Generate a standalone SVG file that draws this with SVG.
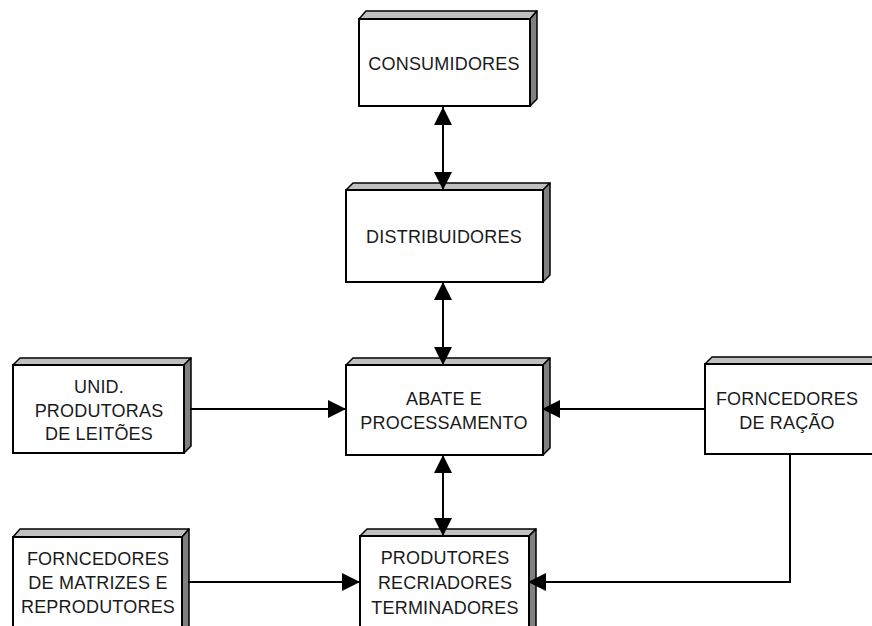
<svg xmlns="http://www.w3.org/2000/svg" width="872" height="626" viewBox="0 0 872 626">
<style>
.front{fill:#ffffff;stroke:#000;stroke-width:2}
.top{fill:#c0c0c0;stroke:#000;stroke-width:1.5;stroke-linejoin:round}
.side{fill:#808080;stroke:#000;stroke-width:1.5;stroke-linejoin:round}
.lbl{font-family:"Liberation Sans",Arial,sans-serif;font-size:18px;fill:#1a1a1a;text-anchor:middle;letter-spacing:0.2px}
.con{fill:none;stroke:#000;stroke-width:2}
</style>
<defs>
<marker id="ah" viewBox="0 0 18 18" refX="18" refY="9" markerWidth="18" markerHeight="18" markerUnits="userSpaceOnUse" orient="auto-start-reverse">
<path d="M0,0 L18,9 L0,18 z" fill="#000"/>
</marker>
</defs>
<rect width="872" height="626" fill="#fff"/>
<g id="consumidores">
<polygon class="top" points="359,19 366,11 537,11 530,19"/>
<polygon class="side" points="530,19 537,11 537,99 530,106"/>
<rect class="front" x="359" y="19" width="171" height="87"/>
<text class="lbl" x="444" y="70">CONSUMIDORES</text>
</g>
<g id="distribuidores">
<polygon class="top" points="346,190 353,183 550,183 543,190"/>
<polygon class="side" points="543,190 550,183 550,275 543,282"/>
<rect class="front" x="346" y="190" width="197" height="92"/>
<text class="lbl" x="444" y="243">DISTRIBUIDORES</text>
</g>
<g id="abate">
<polygon class="top" points="346,365 353,358 550,358 543,365"/>
<polygon class="side" points="543,365 550,358 550,448 543,455"/>
<rect class="front" x="346" y="365" width="197" height="90"/>
<text class="lbl" x="444" y="405">ABATE E</text>
<text class="lbl" x="444" y="429">PROCESSAMENTO</text>
</g>
<g id="unid">
<polygon class="top" points="13,365 20,358 191,358 184,365"/>
<polygon class="side" points="184,365 191,358 191,446 184,453"/>
<rect class="front" x="13" y="365" width="171" height="88"/>
<text class="lbl" x="99" y="393">UNID.</text>
<text class="lbl" x="99" y="417">PRODUTORAS</text>
<text class="lbl" x="99" y="440">DE LEITÕES</text>
</g>
<g id="racao">
<polygon class="top" points="705,364 712,357 883,357 876,364"/>
<rect class="front" x="705" y="364" width="171" height="90"/>
<text class="lbl" x="787" y="405">FORNCEDORES</text>
<text class="lbl" x="787" y="429">DE RAÇÃO</text>
</g>
<g id="matrizes">
<polygon class="top" points="13,537 20,529 189,529 182,537"/>
<polygon class="side" points="182,537 189,529 189,640 182,640"/>
<rect class="front" x="13" y="537" width="169" height="100"/>
<text class="lbl" x="98" y="565">FORNCEDORES</text>
<text class="lbl" x="98" y="589">DE MATRIZES E</text>
<text class="lbl" x="98" y="613">REPRODUTORES</text>
</g>
<g id="produtores">
<polygon class="top" points="360,536 367,529 536,529 529,536"/>
<polygon class="side" points="529,536 536,529 536,640 529,640"/>
<rect class="front" x="360" y="536" width="169" height="100"/>
<text class="lbl" x="445" y="564">PRODUTORES</text>
<text class="lbl" x="445" y="589">RECRIADORES</text>
<text class="lbl" x="445" y="614">TERMINADORES</text>
</g>
<g id="connectors">
<line class="con" x1="443" y1="107" x2="443" y2="190" marker-start="url(#ah)" marker-end="url(#ah)"/>
<line class="con" x1="443" y1="282" x2="443" y2="365" marker-start="url(#ah)" marker-end="url(#ah)"/>
<line class="con" x1="443" y1="455" x2="443" y2="536" marker-start="url(#ah)" marker-end="url(#ah)"/>
<line class="con" x1="190" y1="409" x2="346" y2="409" marker-end="url(#ah)"/>
<line class="con" x1="705" y1="409" x2="542" y2="409" marker-end="url(#ah)"/>
<line class="con" x1="188" y1="582" x2="360" y2="582" marker-end="url(#ah)"/>
<polyline class="con" points="790,454 790,582 528,582" marker-end="url(#ah)"/>
</g>
</svg>
